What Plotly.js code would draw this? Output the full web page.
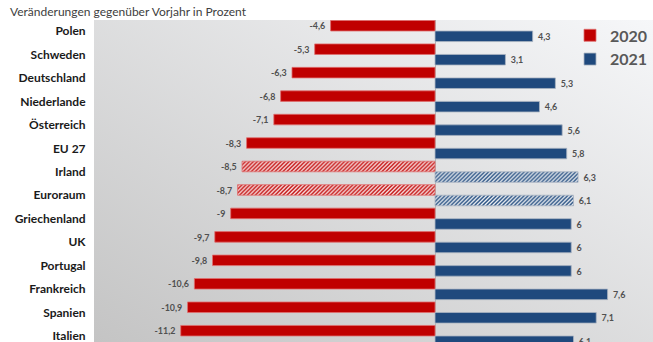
<!DOCTYPE html>
<html>
<head>
<meta charset="utf-8">
<script src="https://cdn.plot.ly/plotly-3.0.1.min.js"></script>
<style>html,body{margin:0;padding:0;background:#fff;}#chart{width:653px;height:342px;}</style>
</head>
<body>
<div id="chart"></div>
<script>
const categories = ["Polen","Schweden","Deutschland","Niederlande","Österreich","EU 27","Irland","Euroraum","Griechenland","UK","Portugal","Frankreich","Spanien","Italien"];
const values2020 = [-4.6,-5.3,-6.3,-6.8,-7.1,-8.3,-8.5,-8.7,-9,-9.7,-9.8,-10.6,-10.9,-11.2];
const values2021 = [4.3,3.1,5.3,4.6,5.6,5.8,6.3,6.1,6,6,6,7.6,7.1,6.1];
const hatched = ["Irland","Euroraum"];
const seriesNames = ["2020","2021"];
const subtitle = "Veränderungen gegenüber Vorjahr in Prozent";

const RED = "#C00000", BLUE = "#1F497D";
const fmt = v => String(v).replace(".", ",");
const shapes = categories.map(c => hatched.includes(c) ? "/" : "");

const labelFont = {family: "Lato, sans-serif", size: 11, color: "#505050"};

const t2020 = {
  type: "bar", orientation: "h", name: seriesNames[0],
  y: categories, x: values2020,
  text: values2020.map(v => "<b>" + fmt(v) + "</b>\u00a0"),
  textposition: "outside", cliponaxis: false,
  textfont: labelFont,
  marker: {color: RED, line: {color: "#e07070", width: 0.8},
    pattern: {shape: shapes, fgcolor: RED, bgcolor: "#ffffff", size: 2.8, solidity: 0.55}},
  hoverinfo: "none"
};
const t2021 = {
  type: "bar", orientation: "h", name: seriesNames[1],
  y: categories, x: values2021,
  text: values2021.map(v => "\u00a0<b>" + fmt(v) + "</b>"),
  textposition: "outside", cliponaxis: false,
  textfont: labelFont,
  marker: {color: BLUE, line: {color: "#a9b4c2", width: 0.8},
    pattern: {shape: shapes, fgcolor: BLUE, bgcolor: "#ffffff", size: 2.8, solidity: 0.55}},
  hoverinfo: "none"
};

const svg = "<svg xmlns='http://www.w3.org/2000/svg' width='559' height='322' preserveAspectRatio='none'>" +
  "<defs><linearGradient id='g' x1='1' y1='0' x2='0' y2='1'>" +
  "<stop offset='0' stop-color='#f6f7f9'/><stop offset='1' stop-color='#c4c4c4'/></linearGradient></defs>" +
  "<rect width='559' height='322' fill='url(#g)'/></svg>";
const bgImg = "data:image/svg+xml;charset=utf-8," + encodeURIComponent(svg);

const layout = {
  width: 653, height: 342,
  margin: {l: 94, r: 0, t: 20, b: 0, pad: 0},
  paper_bgcolor: "#ffffff", plot_bgcolor: "rgba(0,0,0,0)",
  barmode: "group", bargap: 0.1, bargroupgap: 0,
  showlegend: true,
  legend: {x: 1.0, xanchor: "right", y: 1.005, yanchor: "top", bgcolor: "rgba(0,0,0,0)",
    font: {family: "Lato, sans-serif", size: 16, color: "#595959", weight: "bold"},
    itemwidth: 30, tracegroupgap: 0, traceorder: "normal"},
  xaxis: {range: [-15.02, 9.6], showticklabels: false, showgrid: false, ticks: "",
    zeroline: true, zerolinecolor: "#b5b5b5", zerolinewidth: 1, fixedrange: true},
  yaxis: {range: [13.256, -0.469], type: "category", showgrid: false, zeroline: false,
    ticks: "outside", ticklen: 5, tickcolor: "rgba(0,0,0,0)",
    tickfont: {family: "Lato, sans-serif", size: 12, color: "#1a1a1a", weight: "bold"}, fixedrange: true},
  images: [{source: bgImg, xref: "paper", yref: "paper", x: 0, y: 1, sizex: 1, sizey: 1,
    sizing: "stretch", xanchor: "left", yanchor: "top", layer: "below"}],
  annotations: [{text: subtitle, xref: "paper", yref: "paper", x: -94/559, y: 1 + 9/322,
    xanchor: "left", yanchor: "middle", xshift: 8, showarrow: false,
    font: {family: "Lato, sans-serif", size: 12, color: "#404040"}}]
};

Plotly.newPlot("chart", [t2020, t2021], layout, {displayModeBar: false, staticPlot: true});
</script>
</body>
</html>
